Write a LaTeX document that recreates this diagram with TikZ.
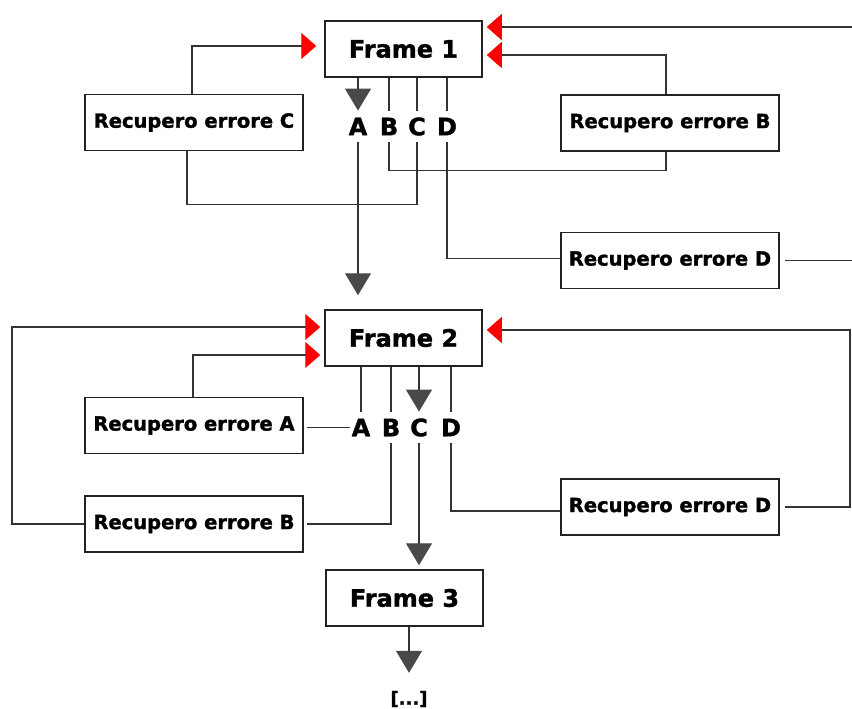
\documentclass[tikz,border=0pt]{standalone}
\usepackage{fontspec}
\setmainfont{DejaVu Sans}[BoldFeatures={FakeBold=1.5}]
\usetikzlibrary{arrows.meta}
\definecolor{lnc}{HTML}{333333}
\definecolor{bxc}{HTML}{222222}
\definecolor{gac}{HTML}{4A4848}
\definecolor{redc}{HTML}{FF0000}
\begin{document}
\begin{tikzpicture}[x=1pt,y=-1pt,
 framebox/.style={draw=bxc,line width=1.5pt,minimum width=157pt,minimum height=56pt,inner sep=0pt,font=\fontsize{24}{28}\selectfont\bfseries},
 recbox/.style={draw=bxc,line width=1.5pt,minimum width=218pt,minimum height=56pt,inner sep=0pt,font=\fontsize{19.5}{23}\selectfont\bfseries},
 letter/.style={inner xsep=2pt,inner ysep=7pt,text height=17.5pt,text depth=0pt,font=\fontsize{24}{28}\selectfont\bfseries},
 conn/.style={draw=lnc,line width=1.4pt},
 redarrow/.style={conn,-{Triangle[length=15pt,width=26pt,fill=redc,color=redc]}},
 grayarrow/.style={conn,-{Triangle[length=22pt,width=26pt,fill=gac,color=gac]}},
]
\useasboundingbox (0,0) rectangle (852,709);

% boxes
\node[framebox] (f1) at (403.5,49) {Frame 1};
\node[framebox] (f2) at (403.5,338) {Frame 2};
\node[framebox] (f3) at (404.5,598) {Frame 3};
\node[recbox] (rc) at (194,122.5) {Recupero errore C};
\node[recbox] (rb1) at (670,123) {Recupero errore B};
\node[recbox] (rd1) at (670,260.5) {Recupero errore D};
\node[recbox] (ra) at (194,425.5) {Recupero errore A};
\node[recbox] (rb2) at (194,524) {Recupero errore B};
\node[recbox] (rd2) at (670,507) {Recupero errore D};

% letters row 1
\node[letter] (a1) at (358,126.5) {A};
\node[letter] (b1) at (389,126.5) {B};
\node[letter] (c1) at (417,126.5) {C};
\node[letter] (d1) at (447,126.5) {D};
% letters row 2
\node[letter] (a2) at (361,427.5) {A};
\node[letter] (b2) at (391,427.5) {B};
\node[letter] (c2) at (419,427.5) {C};
\node[letter] (d2) at (451,427.5) {D};

\node[inner sep=0pt,font=\fontsize{18}{20}\selectfont\bfseries] (dots) at (409,699) {[...]};

\coordinate (e1) at (852,27);
\coordinate (e2) at (852,260.5);
\coordinate (l2) at (12,524);
\coordinate (r2) at (850,507);

% row 1 connectors
\draw[grayarrow] (f1.south -| a1) -- (a1.north);
\draw[conn] (f1.south -| b1) -- (b1.north);
\draw[conn] (f1.south -| c1) -- (c1.north);
\draw[conn] (f1.south -| d1) -- (d1.north);

\draw[redarrow,shorten >=8pt] ([xshift=-2pt]rc.north) |- ([yshift=3pt]f1.west);
\draw[conn] ([xshift=-7pt]rc.south) |- ([yshift=-62pt]c1.south) -- (c1.south);
\draw[conn] (b1.south) |- ([xshift=-4pt,yshift=-19pt]rb1.south) -- ([xshift=-4pt]rb1.south);
\draw[redarrow,shorten >=4pt] ([xshift=-4pt]rb1.north) |- ([yshift=-6pt]f1.east);
\draw[redarrow,shorten >=4pt] (e1) -- (e1 -| f1.east);
\draw[conn] (d1.south) |- ([yshift=2pt]rd1.west);
\draw[conn,shorten <=5pt] (rd1.east) -- (e2);
\draw[grayarrow,shorten >=14pt] (a1.south) -- (a1.south |- f2.north);

% row 2 connectors
\draw[redarrow,shorten >=4pt] (rb2.west) -- (l2) |- ([yshift=11pt]f2.west);
\draw[redarrow,shorten >=4pt] ([xshift=-1pt]ra.north) |- ([yshift=-17pt]f2.west);
\draw[conn] (f2.south -| a2) -- (a2.north);
\draw[conn] (f2.south -| b2) -- (b2.north);
\draw[grayarrow] (f2.south -| c2) -- (c2.north);
\draw[conn] (f2.south -| d2) -- (d2.north);
\draw[conn,shorten <=3pt] (a2.west -| ra.east) -- (a2.west);
\draw[conn,shorten <=3pt] (rb2.east) -| (b2.south);
\draw[grayarrow,shorten >=4pt] (c2.south) -- (c2.south |- f3.north);
\draw[conn] (d2.south) |- ([yshift=-4pt]rd2.west);
\draw[redarrow,shorten <=5pt,shorten >=4pt] (rd2.east) -- (r2) |- ([yshift=8pt]f2.east);

% frame 3 to dots
\draw[grayarrow,shorten >=18pt] (dots.north |- f3.south) -- (dots.north);
\end{tikzpicture}
\end{document}
